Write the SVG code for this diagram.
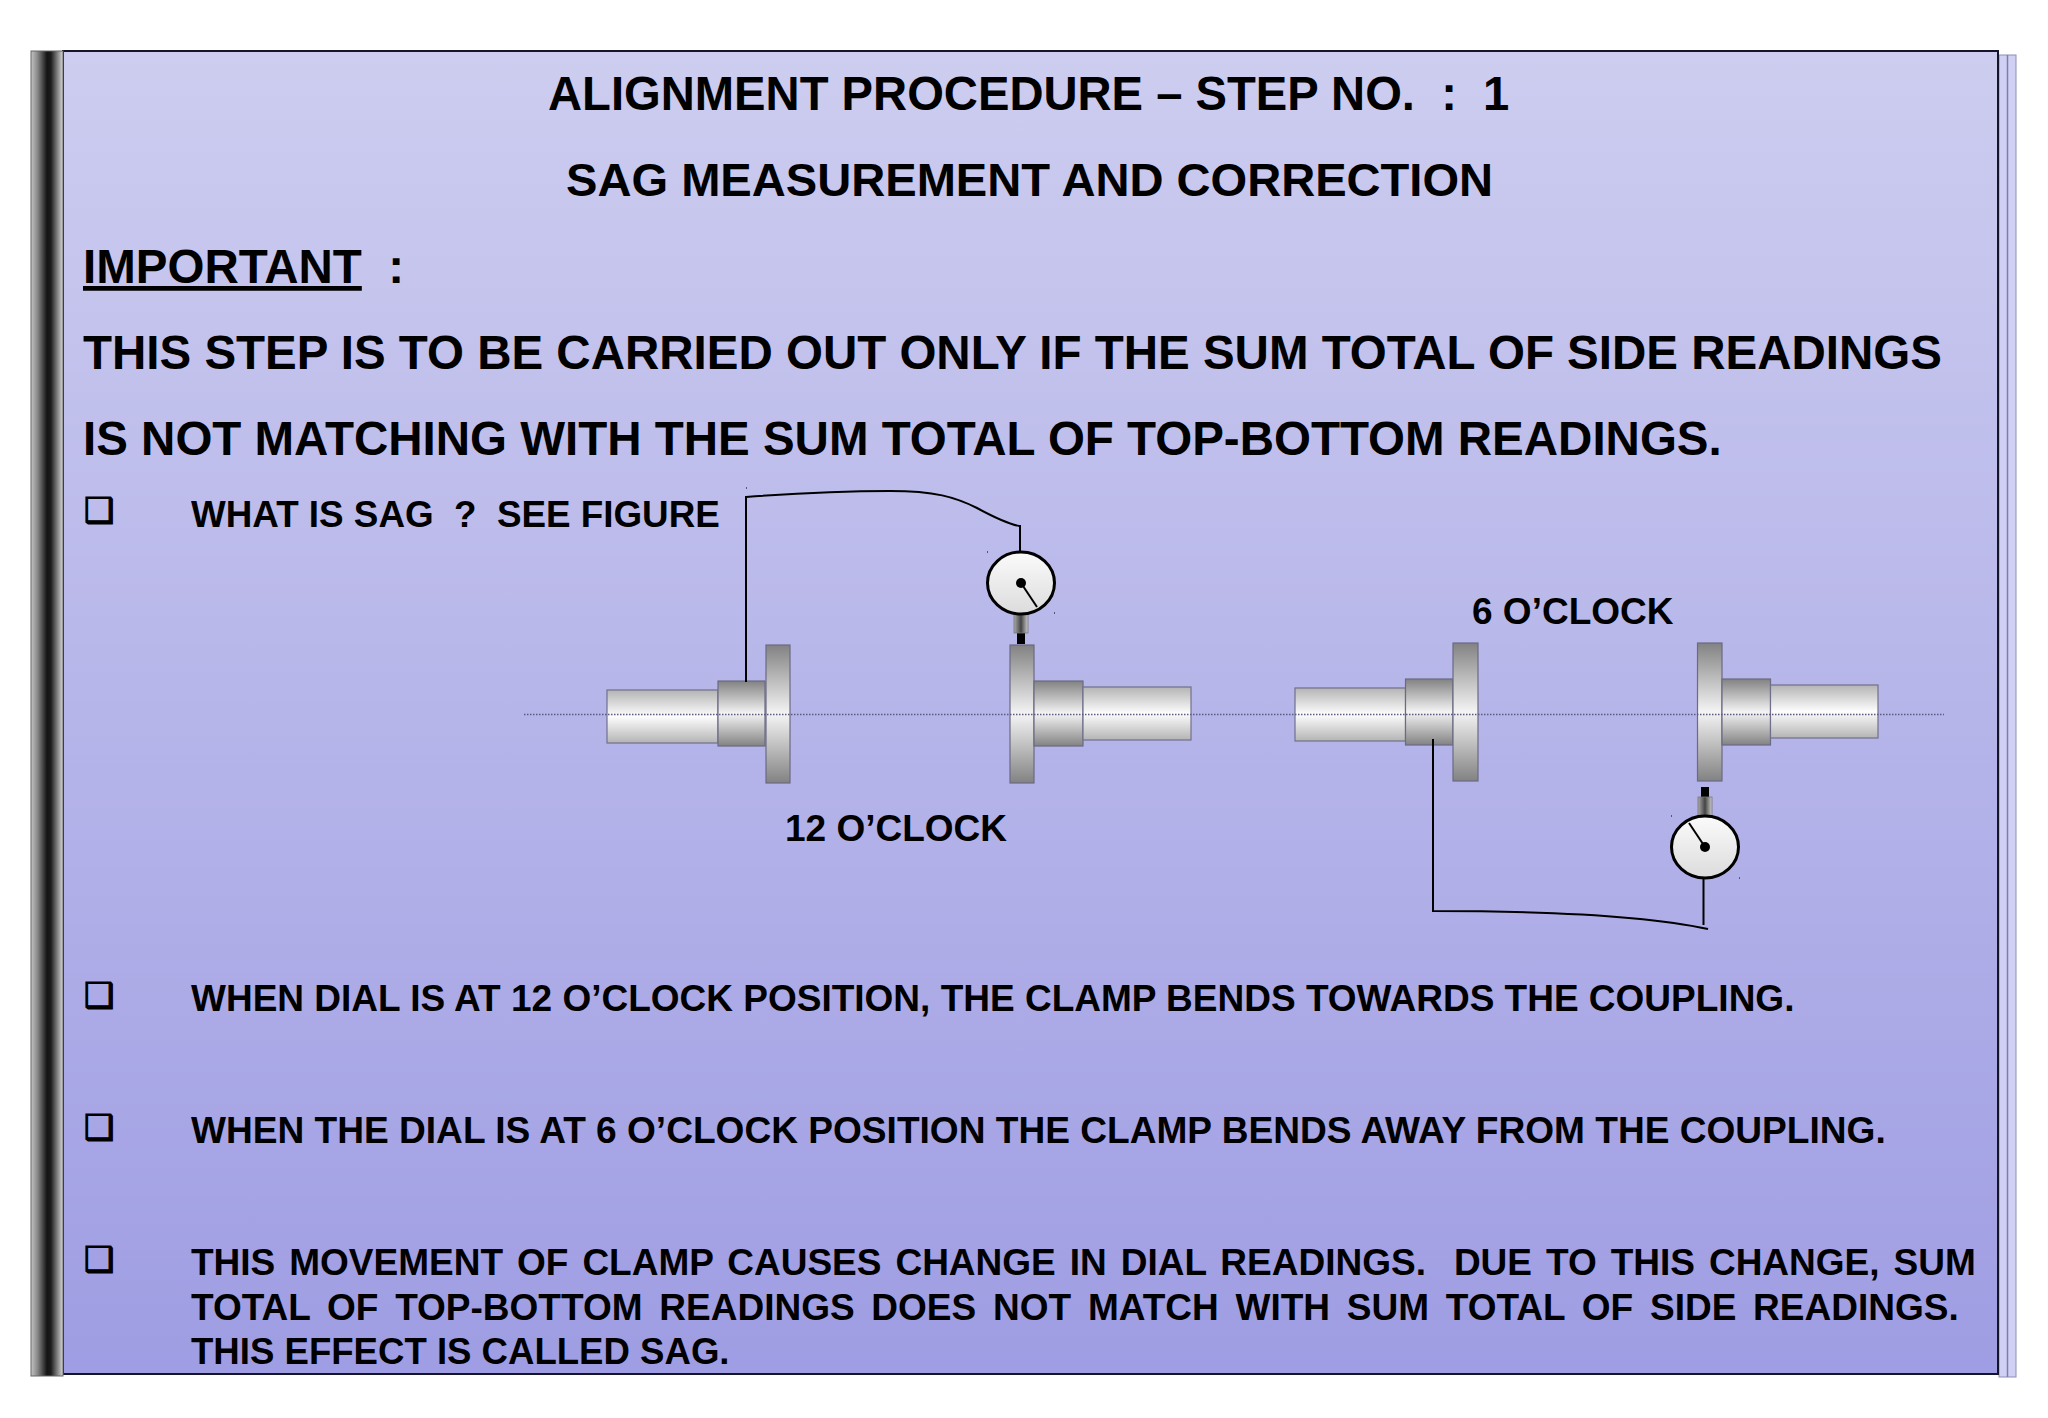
<svg xmlns="http://www.w3.org/2000/svg" width="2048" height="1418" viewBox="0 0 2048 1418">
<defs>
<linearGradient id="bg" x1="0" y1="0" x2="0" y2="1"><stop offset="0" stop-color="#cdcdf0"/><stop offset="1" stop-color="#9f9de3"/></linearGradient>
<linearGradient id="bar" x1="0" y1="0" x2="1" y2="0"><stop offset="0" stop-color="#c4c4c4"/><stop offset=".2" stop-color="#8a8a8a"/><stop offset=".5" stop-color="#141414"/><stop offset=".62" stop-color="#1c1c1c"/><stop offset="1" stop-color="#d8d8d8"/></linearGradient>
<linearGradient id="shaft" x1="0" y1="0" x2="0" y2="1"><stop offset="0" stop-color="#b4b4b4"/><stop offset=".5" stop-color="#fdfdfd"/><stop offset="1" stop-color="#b4b4b4"/></linearGradient>
<linearGradient id="hub" x1="0" y1="0" x2="0" y2="1"><stop offset="0" stop-color="#828282"/><stop offset=".5" stop-color="#f4f4f4"/><stop offset="1" stop-color="#828282"/></linearGradient>
<linearGradient id="face" x1="0" y1="0" x2="0" y2="1"><stop offset="0" stop-color="#fbfbfb"/><stop offset="1" stop-color="#dcdcdc"/></linearGradient>
<linearGradient id="stem" x1="0" y1="0" x2="1" y2="0"><stop offset="0" stop-color="#aaa"/><stop offset=".5" stop-color="#444"/><stop offset="1" stop-color="#ccc"/></linearGradient>
</defs>
<style>
text{font-family:"Liberation Sans",Arial,sans-serif;font-weight:700;fill:#000;white-space:pre}
.h{font-size:47.5px}
.b{font-size:37px}
.chk{font-family:"DejaVu Sans",sans-serif;font-size:34px;font-weight:400;stroke:#000;stroke-width:1.3}
.s{fill:url(#shaft);stroke:#70708c;stroke-width:1.2}
.m{fill:url(#hub);stroke:#6a6a84;stroke-width:1.2}
.w{fill:none;stroke:#000;stroke-width:2}
.axis{fill:none;stroke:#5a5a80;stroke-width:1.3;stroke-dasharray:1.5 1.5}
.dial{fill:url(#face);stroke:#000;stroke-width:3}
.needle{stroke:#000;stroke-width:2;fill:none}
.st{fill:url(#stem);stroke:#777;stroke-width:.8}
.sp{fill:#55557a}
</style>
<g id="frame">
<rect x="1999" y="55" width="17" height="1322" fill="#d0d0f4" stroke="#8e8eb8" stroke-width="1"/>
<line x1="2007.5" y1="55" x2="2007.5" y2="1377" stroke="#7e7eaa" stroke-width="1.5"/>
<rect x="63" y="51" width="1935" height="1323" fill="url(#bg)" stroke="#15152a" stroke-width="2"/>
<rect x="31" y="51" width="32" height="1325" fill="url(#bar)" stroke="#666" stroke-width="1"/>
</g>
<g id="texts">
<text class="h" x="548" y="110" style="font-size:47.2px">ALIGNMENT PROCEDURE – STEP NO.  :  1</text>
<text class="h" x="566" y="196" style="font-size:47.1px">SAG MEASUREMENT AND CORRECTION</text>
<text class="h" x="83" y="283"><tspan text-decoration="underline">IMPORTANT</tspan>  :</text>
<text class="h" x="83" y="369">THIS STEP IS TO BE CARRIED OUT ONLY IF THE SUM TOTAL OF SIDE READINGS</text>
<text class="h" x="83" y="455">IS NOT MATCHING WITH THE SUM TOTAL OF TOP-BOTTOM READINGS.</text>
<text class="b" x="191" y="527" style="font-size:36.8px">WHAT IS SAG  ?  SEE FIGURE</text>
<text class="b" x="191" y="1011">WHEN DIAL IS AT 12 O’CLOCK POSITION, THE CLAMP BENDS TOWARDS THE COUPLING.</text>
<text class="b" x="191" y="1143" style="font-size:37.1px">WHEN THE DIAL IS AT 6 O’CLOCK POSITION THE CLAMP BENDS AWAY FROM THE COUPLING.</text>
<text class="b" x="191" y="1275" word-spacing="3.7">THIS MOVEMENT OF CLAMP CAUSES CHANGE IN DIAL READINGS.  DUE TO THIS CHANGE, SUM</text>
<text class="b" x="191" y="1320" word-spacing="6.5">TOTAL OF TOP-BOTTOM READINGS DOES NOT MATCH WITH SUM TOTAL OF SIDE READINGS.</text>
<text class="b" x="191" y="1364" style="font-size:36.6px">THIS EFFECT IS CALLED SAG.</text>
<text class="b" x="785" y="841">12 O’CLOCK</text>
<text class="b" x="1472" y="624">6 O’CLOCK</text>
</g>
<g id="bullets">
<text class="chk" x="84" y="522">❑</text>
<text class="chk" x="84" y="1007">❑</text>
<text class="chk" x="84" y="1139">❑</text>
<text class="chk" x="84" y="1271">❑</text>
</g>
<g id="coupling-12-left">
<rect class="s" x="607" y="690" width="111" height="53"/><rect class="m" x="718" y="681" width="47" height="65"/><rect class="m" x="766" y="645" width="24" height="138"/>
</g>
<g id="coupling-12-right">
<rect class="m" x="1010" y="645" width="24" height="138"/><rect class="m" x="1034" y="681" width="49" height="65"/><rect class="s" x="1083" y="687" width="108" height="53"/>
</g>
<g id="coupling-6-left">
<rect class="s" x="1295" y="688" width="110.500" height="53"/><rect class="m" x="1405.500" y="679" width="47.500" height="66"/><rect class="m" x="1453" y="643" width="25" height="138"/>
</g>
<g id="coupling-6-right">
<rect class="m" x="1697.500" y="643" width="24.500" height="138"/><rect class="m" x="1722" y="679" width="48.500" height="66"/><rect class="s" x="1770.500" y="685" width="107.500" height="53"/>
</g>
<g id="connectors">
<line class="axis" x1="524" y1="714.5" x2="1944" y2="714.5"/>
<path class="w" d="M746 682V497C800 493 850 491 890 491C935 491 955 497 977 508C990 515 1005 523 1019 526M1020 525V552"/>
<path class="w" d="M1433 739V911C1530 911 1640 914 1708 929M1703.5 878V925"/>
</g>
<g id="dial-12">
<rect x="1017" y="633" width="8" height="11" fill="#000"/><rect class="st" x="1014" y="614" width="14" height="19"/>
<ellipse class="dial" cx="1021" cy="583" rx="33.500" ry="31"/><line class="needle" x1="1021" y1="583" x2="1037" y2="607"/><circle cx="1021" cy="583" r="5" fill="#000"/>
<rect class="sp" x="987" y="551" width="1" height="2"/><rect class="sp" x="1054" y="612" width="1" height="2"/>
</g>
<g id="dial-6">
<rect x="1701" y="787" width="8" height="10" fill="#000"/><rect class="st" x="1698" y="797" width="14" height="19"/>
<ellipse class="dial" cx="1705" cy="847" rx="33.500" ry="31"/><line class="needle" x1="1705" y1="847" x2="1689" y2="823"/><circle cx="1705" cy="847" r="5" fill="#000"/>
<rect class="sp" x="1671" y="815" width="1" height="2"/><rect class="sp" x="1739" y="877" width="1" height="2"/>
</g>
<rect id="clamp-speck" class="sp" x="746" y="487" width="1" height="2"/>
</svg>
